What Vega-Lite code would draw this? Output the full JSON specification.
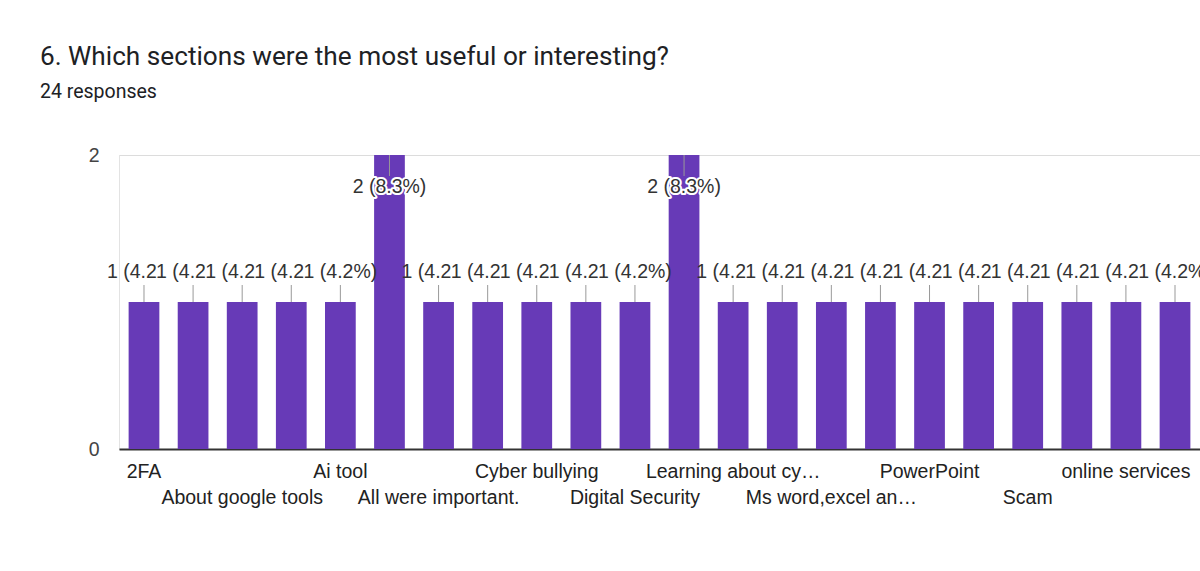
{
  "$schema": "https://vega.github.io/schema/vega-lite/v6.json",
  "width": 1081,
  "height": 294,
  "autosize": {"type": "none"},
  "padding": {"left": 119, "top": 155, "right": 0, "bottom": 122},
  "background": "white",
  "title": {
    "text": "6. Which sections were the most useful or interesting?",
    "subtitle": "24 responses",
    "anchor": "start",
    "frame": "group",
    "dx": -79,
    "offset": 44,
    "font": "Roboto",
    "fontSize": 26.2,
    "fontWeight": "normal",
    "color": "#202124",
    "subtitleFont": "Roboto",
    "subtitleFontSize": 19.5,
    "subtitleColor": "#202124",
    "subtitlePadding": 12
  },
  "config": {
    "view": {"stroke": "#e3e3e3", "strokeWidth": 1},
    "font": "Liberation Sans"
  },
  "data": {
    "values": [
      {"section": "2FA", "count": 1},
      {"section": "About cyber safety", "count": 1},
      {"section": "About google tools", "count": 1},
      {"section": "Ai", "count": 1},
      {"section": "Ai tool", "count": 1},
      {"section": "All", "count": 2},
      {"section": "All were important.", "count": 1},
      {"section": "Canva", "count": 1},
      {"section": "Cyber bullying", "count": 1},
      {"section": "Digital Literacy", "count": 1},
      {"section": "Digital Security", "count": 1},
      {"section": "Excel", "count": 2},
      {"section": "Learning about cyber security", "count": 1},
      {"section": "Microsoft Excel", "count": 1},
      {"section": "Ms word,excel and PowerPoint", "count": 1},
      {"section": "Online safety", "count": 1},
      {"section": "PowerPoint", "count": 1},
      {"section": "Privacy", "count": 1},
      {"section": "Scam", "count": 1},
      {"section": "Social media", "count": 1},
      {"section": "online services", "count": 1},
      {"section": "passwords", "count": 1}
    ]
  },
  "transform": [
    {"window": [{"op": "lead", "field": "count", "as": "next"}]},
    {"calculate": "datum.count + ' (' + format(datum.count / 24, '.1%') + ')'", "as": "label"}
  ],
  "encoding": {
    "x": {
      "field": "section",
      "type": "nominal",
      "sort": null,
      "scale": {"paddingInner": 0.374, "paddingOuter": 0.196},
      "axis": {
        "title": null,
        "values": ["2FA", "About google tools", "Ai tool", "All were important.", "Cyber bullying", "Digital Security", "Learning about cyber security", "Ms word,excel and PowerPoint", "PowerPoint", "Scam", "online services"],
        "labelExpr": "datum.value == 'Learning about cyber security' ? 'Learning about cy…' : datum.value == 'Ms word,excel and PowerPoint' ? 'Ms word,excel an…' : datum.label",
        "labelAngle": 0,
        "labelOverlap": false,
        "labelLimit": 0,
        "labelBound": false,
        "labelFlush": false,
        "labelFont": "Liberation Sans",
        "labelFontSize": 19.5,
        "labelColor": "#222222",
        "labelPadding": {
          "condition": {"test": "indexof(['About google tools','All were important.','Digital Security','Ms word,excel and PowerPoint','Scam'], datum.value) >= 0", "value": 39},
          "value": 13
        },
        "ticks": false,
        "domainColor": "#333333",
        "domainWidth": 2,
        "grid": false
      }
    },
    "y": {
      "field": "count",
      "type": "quantitative",
      "scale": {"domain": [0, 2], "nice": false},
      "axis": {
        "title": null,
        "values": [0, 1, 2],
        "format": "d",
        "domain": false,
        "ticks": false,
        "labelPadding": 20,
        "labelFont": "Liberation Sans",
        "labelFontSize": 19.5,
        "labelColor": "#444444",
        "gridColor": "#dcdcdc",
        "gridWidth": 1
      }
    }
  },
  "layer": [
    {"mark": {"type": "bar", "color": "#673ab7"}},
    {
      "transform": [{"filter": "datum.count < 2"}],
      "mark": {"type": "rule", "color": "#999999", "strokeWidth": 1, "y2Offset": -17},
      "encoding": {"y2": {"field": "count"}}
    },
    {
      "transform": [{"filter": "datum.count == 2"}],
      "mark": {"type": "rule", "color": "#999999", "strokeWidth": 1, "y2Offset": 21},
      "encoding": {"y2": {"field": "count"}}
    },
    {
      "transform": [{"filter": "datum.count < 2 && datum.next == datum.count"}],
      "mark": {"type": "text", "align": "left", "dx": -37, "dy": -30, "baseline": "middle", "font": "Liberation Sans", "fontSize": 19.5, "color": "#333333", "limit": 56, "ellipsis": "\u200b"},
      "encoding": {"text": {"field": "label"}}
    },
    {
      "transform": [{"filter": "datum.count < 2 && datum.next != datum.count"}],
      "mark": {"type": "text", "align": "center", "dy": -30, "baseline": "middle", "font": "Liberation Sans", "fontSize": 19.5, "color": "#333333"},
      "encoding": {"text": {"field": "label"}}
    },
    {
      "transform": [{"filter": "datum.count == 2"}],
      "mark": {"type": "text", "align": "center", "dy": 32, "baseline": "middle", "font": "Liberation Sans", "fontSize": 19.5, "stroke": "white", "strokeWidth": 4, "strokeJoin": "round", "color": "white"},
      "encoding": {"text": {"field": "label"}}
    },
    {
      "transform": [{"filter": "datum.count == 2"}],
      "mark": {"type": "text", "align": "center", "dy": 32, "baseline": "middle", "font": "Liberation Sans", "fontSize": 19.5, "color": "#333333"},
      "encoding": {"text": {"field": "label"}}
    }
  ]
}
